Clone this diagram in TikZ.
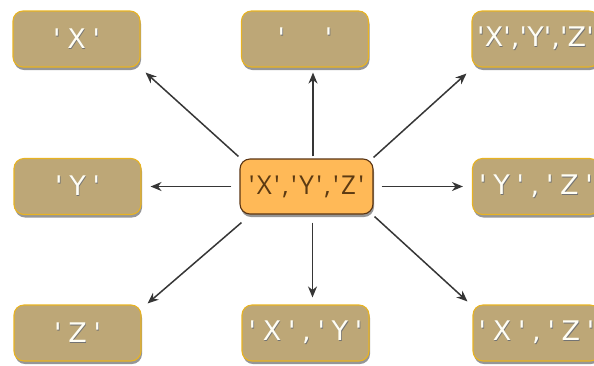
\documentclass[tikz,border=0pt]{standalone}
\usepackage{fontspec}
\setmainfont{Open Sans}
\newfontfamily\fsingle[LetterSpace=25]{DejaVu Sans}
\newfontfamily\fdouble[LetterSpace=25]{DejaVu Sans}
\newfontfamily\ftight[LetterSpace=0.5]{DejaVu Sans}
\newfontfamily\ftriple[LetterSpace=9]{Open Sans}
\usetikzlibrary{shadows,arrows.meta}
\definecolor{tanfill}{HTML}{BDA777}
\definecolor{tanedge}{HTML}{E8B322}
\definecolor{orfill}{HTML}{FFB957}
\definecolor{oredge}{HTML}{5A3412}
\definecolor{ortext}{HTML}{5C3A12}
\definecolor{arrcol}{HTML}{363636}
\newcommand\shtext[1]{\makebox[0pt][l]{\hspace{0.7pt}\raisebox{-1.3pt}{\textcolor{black!55}{#1}}}\textcolor{white!96!yellow}{#1}}
\tikzset{
  leaf/.style={draw=tanedge, line width=1.1pt, fill=tanfill, rounded corners=10pt,
    minimum width=127pt, minimum height=56pt, inner sep=0pt,
    font=\fontsize{27}{30}\selectfont,
    drop shadow={shadow xshift=1pt, shadow yshift=-3pt, opacity=0.55, fill=black!75}},
  hub/.style={draw=oredge, line width=1.1pt, fill=orfill, rounded corners=10pt,
    minimum width=133pt, minimum height=55pt, inner sep=0pt, text=ortext,
    font=\fontsize{26}{30}\selectfont\ftriple,
    drop shadow={shadow xshift=1pt, shadow yshift=-3pt, opacity=0.55, fill=black!75}},
  arr/.style={draw=arrcol, line width=1.5pt, -{Stealth[length=11pt,width=9pt,inset=3.5pt]}}
}
\begin{document}
\begin{tikzpicture}[x=1pt,y=-1pt]
\useasboundingbox (0,0) rectangle (594,365);
\node[leaf] (tl) at (76.5,39) {\fsingle\shtext{'X'}};
\node[leaf] (tm) at (305,39) {\raisebox{3pt}{\fsingle\shtext{'\hspace{40pt}'}}\vphantom{X}};
\node[leaf] (tr) at (535.5,39) {\ftight\shtext{'X','Y','Z'}};
\node[leaf] (ml) at (77.5,186.5) {\fsingle\shtext{'Y'}};
\node[hub]  (c)  at (306.5,186.5) {'X','Y','Z'};
\node[leaf] (mr) at (536,186.5) {\fdouble\shtext{'Y','Z'}};
\node[leaf] (bl) at (77.5,333) {\fsingle\shtext{'Z'}};
\node[leaf] (bm) at (305.5,333) {\fdouble\shtext{'X','Y'}};
\node[leaf] (br) at (536.5,333) {\fdouble\shtext{'X','Z'}};
\draw[arr] ([shift={(-1,-2)}]c.north west) -- ([shift={(5,5)}]tl.south east);
\draw[arr] ([shift={(6.5,-2)}]c.north) -- ([shift={(8,5)}]tm.south);
\draw[arr] ([shift={(0,-1)}]c.north east) -- ([shift={(-5,6)}]tr.south west);
\draw[arr] ([shift={(-8,0)}]c.west) -- ([shift={(9,0)}]ml.east);
\draw[arr] ([shift={(8,0)}]c.east) -- ([shift={(-9,0)}]mr.west);
\draw[arr] ([shift={(2,8)}]c.south west) -- ([shift={(6,-1)}]bl.north east);
\draw[arr] ([shift={(6,8)}]c.south) -- ([shift={(7,-7)}]bm.north);
\draw[arr] ([shift={(1,2)}]c.south east) -- ([shift={(-5,-3)}]br.north west);
\end{tikzpicture}
\end{document}
